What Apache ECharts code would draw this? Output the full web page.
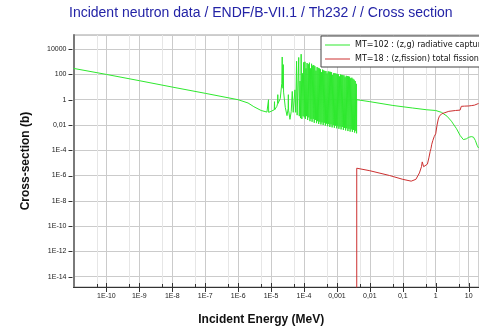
<!DOCTYPE html>
<html>
<head>
<meta charset="utf-8">
<title>Th232 cross sections</title>
<script src="https://cdn.jsdelivr.net/npm/echarts@6/dist/echarts.min.js"></script>
<style>
  html, body { margin: 0; padding: 0; background: #ffffff; }
  #chart { width: 479px; height: 331px; }
</style>
</head>
<body>
<div id="chart"></div>
<script>
// Axis ticks and their labels (energy in MeV, cross section in barns)
const xMajorTicks = [1e-10, 1e-9, 1e-8, 1e-7, 1e-6, 1e-5, 1e-4, 1e-3, 1e-2, 1e-1, 1, 10];
const xTickLabels = ['1E-10', '1E-9', '1E-8', '1E-7', '1E-6', '1E-5', '1E-4', '0,001', '0,01', '0,1', '1', '10'];
const xMinorTicks = [5e-11, 5e-10, 5e-9, 5e-8, 5e-7, 5e-6, 5e-5, 5e-4, 5e-3, 5e-2, 0.5, 5];
const yMajorTicks = [1e-14, 1e-12, 1e-10, 1e-8, 1e-6, 1e-4, 1e-2, 1, 100, 10000];
const yTickLabels = ['1E-14', '1E-12', '1E-10', '1E-8', '1E-6', '1E-4', '0,01', '1', '100', '10000'];

// MT=102 capture: 1/v region [E (MeV), sigma (b)]
const captureThermal = [
  [1e-11, 300], [1e-10, 100], [1e-9, 32], [1e-8, 10], [1e-7, 3.2], [1e-6, 1.0], [2e-6, 0.55]
];

// MT=102 capture: isolated low resonances
const captureLowResonances = [
  [3e-6, 0.28], [5e-6, 0.14], [7.5e-6, 0.105], [8.25e-6, 0.1], [8.35e-6, 1.0], [8.45e-6, 0.1],
  [1.0e-5, 0.12], [1.25e-5, 0.16], [1.27e-5, 0.7], [1.29e-5, 0.16], [1.5e-5, 0.3], [1.58e-5, 0.5],
  [1.6e-5, 2.5], [1.62e-5, 0.5], [1.9e-5, 1.2], [2.12e-5, 20], [2.18e-5, 2400], [2.24e-5, 15],
  [2.3e-5, 8], [2.345e-5, 600], [2.4e-5, 4], [2.7e-5, 0.25], [3.05e-5, 0.055], [3.3e-5, 0.2],
  [3.35e-5, 2.5], [3.4e-5, 0.15], [3.75e-5, 0.028], [4.1e-5, 0.12], [4.4e-5, 4.5], [4.7e-5, 0.1],
  [5.0e-5, 0.07], [5.3e-5, 6], [5.6e-5, 0.1], [5.95e-5, 1100], [6.2e-5, 0.06], [6.92e-5, 2200],
  [7.2e-5, 0.05], [7.6e-5, 30], [7.9e-5, 0.035], [8.2e-5, 4000]
];

// MT=102 capture: dense resolved resonances up to 4 keV
const captureDenseResonances = [
  [8.6e-5, 0.03], [9.0e-5, 120], [9.4e-5, 0.05], [9.8e-5, 900], [1.02e-4, 0.04], [1.07e-4, 1000],
  [1.10e-4, 0.03], [1.15e-4, 300], [1.19e-4, 0.05], [1.24e-4, 800], [1.29e-4, 0.025], [1.35e-4, 650],
  [1.40e-4, 0.04], [1.46e-4, 850], [1.52e-4, 0.02], [1.58e-4, 300], [1.63e-4, 0.03], [1.70e-4, 700],
  [1.76e-4, 0.018], [1.84e-4, 500], [1.91e-4, 0.03], [1.98e-4, 550], [2.05e-4, 0.015], [2.14e-4, 450],
  [2.22e-4, 0.025], [2.31e-4, 200], [2.40e-4, 0.014], [2.50e-4, 380], [2.59e-4, 0.02], [2.70e-4, 330],
  [2.80e-4, 0.012], [2.92e-4, 300], [3.03e-4, 0.018], [3.15e-4, 260], [3.27e-4, 0.011], [3.40e-4, 150],
  [3.53e-4, 0.016], [3.67e-4, 240], [3.82e-4, 0.01], [3.97e-4, 210], [4.12e-4, 0.015], [4.29e-4, 190],
  [4.46e-4, 0.009], [4.64e-4, 185], [4.82e-4, 0.013], [5.02e-4, 120], [5.22e-4, 0.008], [5.43e-4, 175],
  [5.65e-4, 0.012], [5.88e-4, 165], [6.11e-4, 0.007], [6.36e-4, 160], [6.61e-4, 0.011], [6.88e-4, 150],
  [7.15e-4, 0.0065], [7.44e-4, 90], [7.74e-4, 0.01], [8.05e-4, 130], [8.37e-4, 0.006], [8.71e-4, 125],
  [9.06e-4, 0.009], [9.42e-4, 115], [9.80e-4, 0.0055], [1.02e-3, 110], [1.06e-3, 0.008], [1.10e-3, 105],
  [1.15e-3, 0.005], [1.19e-3, 70], [1.24e-3, 0.0075], [1.29e-3, 98], [1.34e-3, 0.0045], [1.40e-3, 92],
  [1.45e-3, 0.007], [1.51e-3, 88], [1.57e-3, 0.004], [1.64e-3, 84], [1.70e-3, 0.006], [1.77e-3, 60],
  [1.84e-3, 0.0037], [1.92e-3, 78], [1.99e-3, 0.0055], [2.07e-3, 74], [2.16e-3, 0.0033], [2.24e-3, 70],
  [2.33e-3, 0.005], [2.43e-3, 66], [2.52e-3, 0.003], [2.62e-3, 50], [2.73e-3, 0.0045], [2.84e-3, 55],
  [2.95e-3, 0.0028], [3.07e-3, 45], [3.19e-3, 0.004], [3.32e-3, 38], [3.45e-3, 0.0025], [3.59e-3, 30],
  [3.73e-3, 0.0035], [3.88e-3, 18], [3.95e-3, 0.0022]
];

// MT=102 capture: unresolved and fast region
const captureFast = [
  [4.0e-3, 1.0], [1e-2, 0.7], [5e-2, 0.35], [0.2, 0.22], [0.53, 0.16], [1.0, 0.14], [1.5, 0.1],
  [2.2, 0.05], [3.0, 0.02], [4.3, 0.005], [5.5, 0.0015], [6.9, 7e-4], [8.5, 8e-4], [10, 1.05e-3],
  [12, 1.2e-3], [14, 1.1e-3], [16, 6e-4], [18, 2.5e-4], [20, 1.5e-4]
];

// MT=18 total fission [E (MeV), sigma (b)]
const fissionPoints = [
  [4.0e-3, 1e-16], [4.0e-3, 3.8e-6], [0.01, 2.4e-6], [0.04, 1.0e-6], [0.1, 5e-7], [0.18, 3.6e-7],
  [0.25, 5e-7], [0.32, 1.6e-6], [0.37, 5e-6], [0.39, 1.2e-5], [0.43, 5e-6], [0.48, 5e-6],
  [0.56, 8e-6], [0.62, 2.5e-5], [0.68, 8e-5], [0.72, 1.4e-4], [0.76, 3e-4], [0.82, 6e-4],
  [0.9, 1.2e-3], [0.95, 1.0e-3], [1.0, 2.0e-3], [1.1, 0.01], [1.2, 0.03], [1.3, 0.05],
  [1.5, 0.075], [1.8, 0.09], [2.5, 0.12], [4, 0.14], [5.5, 0.15], [6.0, 0.3], [7.5, 0.31],
  [10, 0.32], [12, 0.34], [15, 0.37], [18, 0.45], [20, 0.5]
];

// Decades shown on each axis (log10 of MeV and of barns)
const X_MIN = -11, X_MAX = 1.315;
const Y_MIN = -14.82, Y_MAX = 5.12;

const lg = Math.log10;
const toLog = pts => pts.map(p => [lg(p[0]), lg(p[1])]);
const captureData = toLog([].concat(captureThermal, captureLowResonances, captureDenseResonances, captureFast));
const fissionData = toLog(fissionPoints);

function labelFor(ticks, labels) {
  return function (v) {
    for (let i = 0; i < ticks.length; i++) {
      if (Math.abs(lg(ticks[i]) - v) < 1e-6) return labels[i];
    }
    return '';
  };
}

const crisp = v => Math.round(v) + 0.5;
const FONT = 'Liberation Sans, Arial, sans-serif';
const LEGEND_FONT = 'DejaVu Sans, Verdana, sans-serif';

const chart = echarts.init(document.getElementById('chart'), null, { renderer: 'canvas' });
chart.setOption({
  animation: false,
  backgroundColor: '#ffffff',
  title: {
    text: 'Incident neutron data / ENDF/B-VII.1 / Th232 / / Cross section',
    left: 69,
    top: 6,
    padding: 0,
    textStyle: { color: '#2323a6', fontSize: 14, fontWeight: 'normal', fontFamily: FONT }
  },
  legend: {
    orient: 'vertical',
    left: 321,
    top: 36,
    padding: [5, 10, 4, 4],
    icon: 'rect',
    itemWidth: 25,
    itemHeight: 1,
    itemGap: 6,
    backgroundColor: '#ffffff',
    borderColor: '#444444',
    borderWidth: 1,
    borderRadius: 0,
    textStyle: { fontSize: 8, color: '#111111', fontFamily: LEGEND_FONT },
    data: ['MT=102 : (z,g) radiative capture', 'MT=18 : (z,fission) total fission']
  },
  grid: {
    left: 73.5, right: 0, top: 35, bottom: 42,
    show: true, borderColor: '#a0a0a0', borderWidth: 1, backgroundColor: 'transparent'
  },
  xAxis: {
    type: 'value',
    min: X_MIN, max: X_MAX, splitNumber: 12,
    name: 'Incident Energy (MeV)',
    nameLocation: 'middle',
    nameGap: 27,
    nameTextStyle: { fontSize: 12, fontWeight: 'bold', color: '#111111', fontFamily: FONT, padding: [0, 30, 0, 0] },
    axisLine: { onZero: false, lineStyle: { color: '#333333', width: 1 } },
    axisTick: { show: false },
    axisLabel: {
      margin: 6, fontSize: 7, color: '#222222', fontFamily: FONT,
      showMinLabel: false, showMaxLabel: false,
      formatter: labelFor(xMajorTicks, xTickLabels)
    },
    splitLine: { show: true, lineStyle: { color: '#cbcbcb', width: 1 } }
  },
  yAxis: {
    type: 'value',
    min: Y_MIN, max: Y_MAX, splitNumber: 10,
    name: 'Cross-section (b)',
    nameLocation: 'middle',
    nameGap: 42,
    nameTextStyle: { fontSize: 12, fontWeight: 'bold', color: '#111111', fontFamily: FONT },
    axisLine: { onZero: false, lineStyle: { color: '#7a7a7a', width: 2 } },
    axisTick: { show: false },
    axisLabel: {
      margin: 7, fontSize: 7, color: '#222222', fontFamily: FONT,
      showMinLabel: false, showMaxLabel: false,
      formatter: labelFor(yMajorTicks, yTickLabels)
    },
    splitLine: { show: true, lineStyle: { color: '#cbcbcb', width: 1 } }
  },
  series: [
    {
      // faint vertical lines at 5 x 10^n
      type: 'custom',
      silent: true,
      z: 1,
      data: xMinorTicks.map(t => [lg(t), Y_MIN]),
      renderItem: function (params, api) {
        const a = api.coord([api.value(0), Y_MIN]);
        const b = api.coord([api.value(0), Y_MAX]);
        const x = crisp(a[0]);
        return { type: 'line', shape: { x1: x, y1: b[1], x2: x, y2: a[1] }, style: { stroke: '#e6e6e6', lineWidth: 1 } };
      }
    },
    {
      // energy axis ticks: majors cross the axis, minors sit inside
      type: 'custom',
      silent: true,
      z: 5,
      data: xMajorTicks.map(t => [lg(t), 1]).concat(xMinorTicks.map(t => [lg(t), 0])),
      renderItem: function (params, api) {
        const p = api.coord([api.value(0), Y_MIN]);
        const x = crisp(p[0]);
        const major = api.value(1) === 1;
        return {
          type: 'line',
          shape: { x1: x, y1: p[1] - (major ? 4 : 3), x2: x, y2: p[1] + (major ? 5 : 0) },
          style: { stroke: '#333333', lineWidth: 1 }
        };
      }
    },
    {
      // cross-section axis ticks, outside
      type: 'custom',
      silent: true,
      z: 5,
      data: yMajorTicks.map(t => [X_MIN, lg(t)]),
      renderItem: function (params, api) {
        const p = api.coord([X_MIN, api.value(1)]);
        const y = crisp(p[1]);
        return { type: 'line', shape: { x1: p[0] - 5, y1: y, x2: p[0] - 1, y2: y }, style: { stroke: '#333333', lineWidth: 1 } };
      }
    },
    {
      name: 'MT=102 : (z,g) radiative capture',
      type: 'line',
      data: captureData,
      symbol: 'none',
      sampling: null,
      z: 3,
      lineStyle: { color: '#2ee82e', width: 1 },
      itemStyle: { color: '#2ee82e' }
    },
    {
      name: 'MT=18 : (z,fission) total fission',
      type: 'line',
      data: fissionData,
      symbol: 'none',
      z: 4,
      lineStyle: { color: '#cc3030', width: 1 },
      itemStyle: { color: '#cc3030' }
    }
  ]
});
</script>
</body>
</html>
